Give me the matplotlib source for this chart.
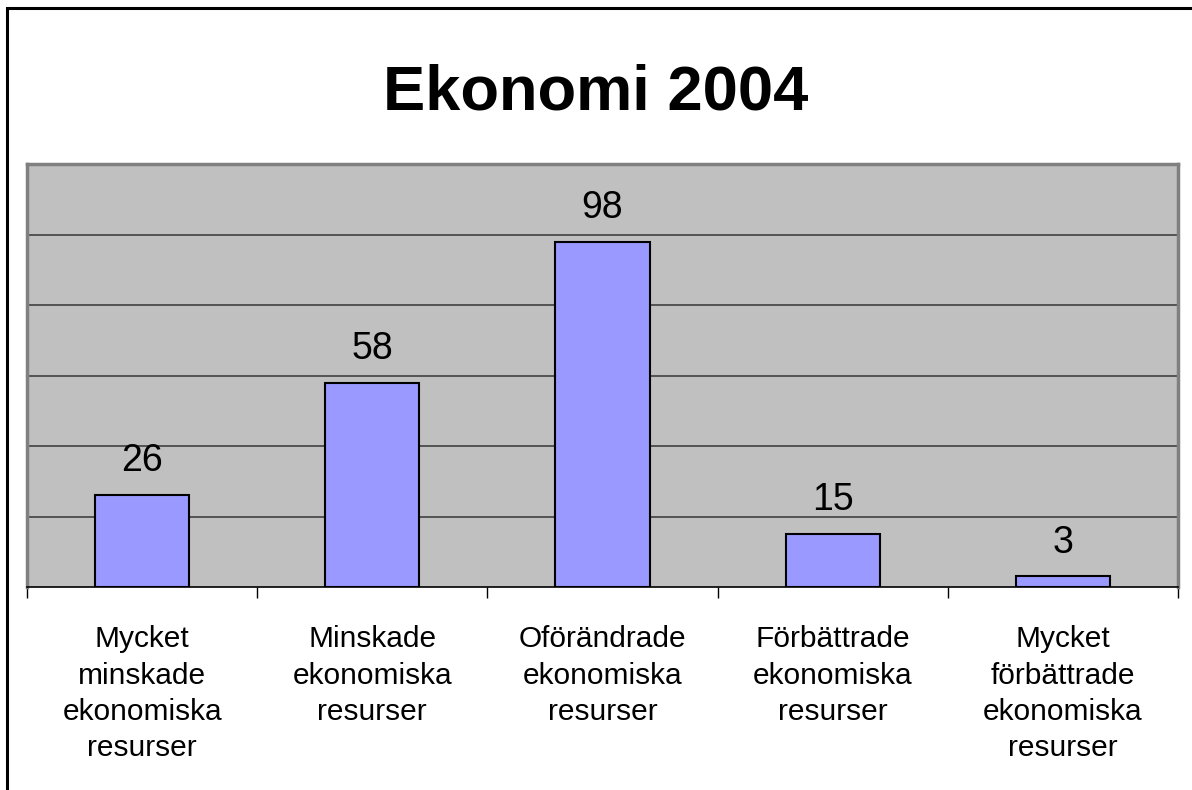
import numpy as np
import matplotlib.pyplot as plt
from matplotlib.patches import Rectangle

plt.rcParams['font.family'] = ['Liberation Sans', 'DejaVu Sans']

# Datos
categorias = ["Mycket\nminskade\nekonomiska\nresurser",
              "Minskade\nekonomiska\nresurser",
              "Oförändrade\nekonomiska\nresurser",
              "Förbättrade\nekonomiska\nresurser",
              "Mycket\nförbättrade\nekonomiska\nresurser"]
valores = [26, 58, 98, 15, 3]
titulo = "Ekonomi 2004"

fig = plt.figure(figsize=(11.92, 7.9), dpi=100)
# marco exterior (solo arriba e izquierda visibles)
fig.patches.append(Rectangle((6.5 / 1192, -0.05), 1.2, 1.05 - 8 / 790, transform=fig.transFigure,
                             fill=False, edgecolor='black', linewidth=2.2))

ax = fig.add_axes([27 / 1192, (790 - 587) / 790, 1151 / 1192, 423 / 790])
ax.set_facecolor('#C0C0C0')

x = np.arange(len(valores))
ax.bar(x, valores, width=0.41, color='#9999FF', edgecolor='black', linewidth=1.5, zorder=3)

for xi, v in zip(x, valores):
    ax.text(xi, v + 4.5, str(v), ha='center', va='bottom', fontsize=27, zorder=4)

ax.set_xlim(-0.5, len(valores) - 0.5)
ax.set_ylim(0, 120)
ax.set_yticks([])
for yv in range(20, 120, 20):
    ax.axhline(yv, color='#404040', linewidth=1.2, zorder=1)

ax.set_xticks(x)
ax.set_xticklabels(categorias, fontsize=21.5, linespacing=1.38, va='top')
ax.tick_params(axis='x', which='major', length=0, pad=27.5)
ax.set_xticks(np.arange(-0.5, len(valores)), minor=True)
ax.tick_params(axis='x', which='minor', length=8, width=1, color='black')

for s in ['left', 'top', 'right']:
    ax.spines[s].set_color('#808080')
    ax.spines[s].set_linewidth(2.5)
ax.spines['bottom'].set_color('black')
ax.spines['bottom'].set_linewidth(1.2)

fig.text(596 / 1192, 1 - 93 / 790, titulo, ha='center', va='center', fontsize=45.5, fontweight='bold')

plt.savefig('out.png', dpi=100)
